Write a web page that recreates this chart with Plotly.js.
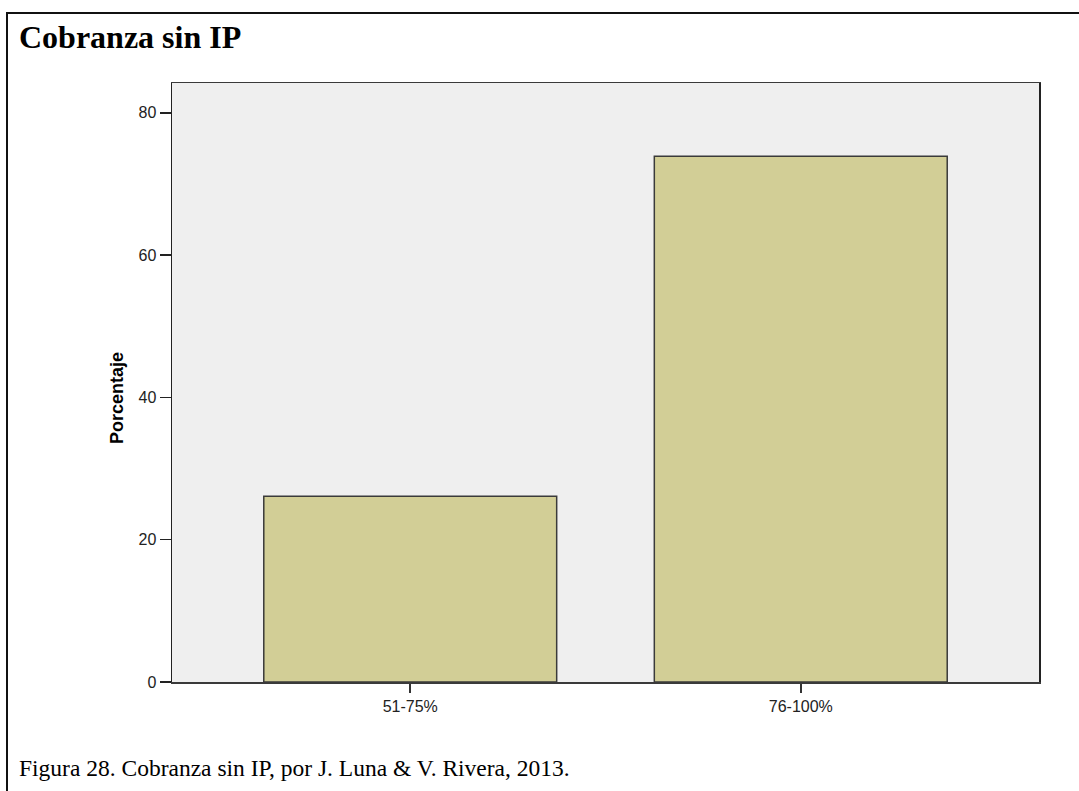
<!DOCTYPE html>
<html>
<head>
<meta charset="utf-8">
<script src="https://cdn.plot.ly/plotly-3.0.1.min.js"></script>
<style>
  html, body { margin: 0; padding: 0; background: #ffffff; }
  #chart { width: 1079px; height: 791px; }
</style>
</head>
<body>
<div id="chart"></div>
<script>
// Response bands and share of cases (%) in each band
const categories = ['51-75%', '76-100%'];
const percentages = [26.1, 73.9];
const yTickValues = [0, 20, 40, 60, 80];

const chartTitle = 'Cobranza sin IP';
const yTitle = 'Porcentaje';
const caption = 'Figura 28. Cobranza sin IP, por J. Luna & V. Rivera, 2013.';

// Plot area geometry in pixels
const W = 1079, H = 791;
const plotLeft = 172, plotRight = 1039, plotTop = 83, plotBottom = 682;
const pw = plotRight - plotLeft, ph = plotBottom - plotTop;
const px = v => (v - plotLeft) / pw;
const py = v => (plotBottom - v) / ph;

const sans = 'Liberation Sans, Arial, sans-serif';
const serif = 'Liberation Serif, Times New Roman, serif';

const trace = {
  type: 'bar',
  x: categories,
  y: percentages,
  marker: {
    color: '#d2ce96',
    line: { color: '#3a3a3a', width: 1.5 }
  },
  hoverinfo: 'x+y'
};

const layout = {
  width: W,
  height: H,
  margin: { l: plotLeft, r: W - plotRight, t: plotTop, b: H - plotBottom, pad: 0 },
  paper_bgcolor: '#ffffff',
  plot_bgcolor: '#efefef',
  showlegend: false,
  bargap: 0.25,
  xaxis: {
    type: 'category',
    range: [-0.61, 1.61],
    showline: true,
    mirror: true,
    linecolor: '#3a3a3a',
    linewidth: 1.5,
    ticks: 'outside',
    ticklen: 9,
    tickwidth: 1.5,
    tickcolor: '#333333',
    showgrid: false,
    zeroline: false,
    tickfont: { family: sans, size: 16, color: '#222222' }
  },
  yaxis: {
    range: [0, 84.2],
    tickvals: yTickValues,
    ticktext: yTickValues.map(String),
    showline: true,
    mirror: true,
    linecolor: '#222222',
    linewidth: 1.5,
    ticks: 'outside',
    ticklen: 11,
    tickwidth: 1.5,
    tickcolor: '#222222',
    showgrid: false,
    zeroline: false,
    tickfont: { family: sans, size: 16, color: '#222222' }
  },
  annotations: [
    {
      text: '<b>' + chartTitle + '</b>',
      xref: 'paper', yref: 'paper',
      x: px(17), y: py(37),
      xanchor: 'left', yanchor: 'middle',
      showarrow: false,
      font: { family: serif, size: 32, color: '#000000' }
    },
    {
      text: '<b>' + yTitle + '</b>',
      xref: 'paper', yref: 'paper',
      x: px(117), y: py(398),
      xanchor: 'center', yanchor: 'middle',
      textangle: -90,
      showarrow: false,
      font: { family: sans, size: 18, color: '#000000' }
    },
    {
      text: caption,
      xref: 'paper', yref: 'paper',
      x: px(17), y: py(768),
      xanchor: 'left', yanchor: 'middle',
      showarrow: false,
      font: { family: serif, size: 23.5, color: '#000000' }
    }
  ],
  shapes: [
    // frame around the figure: top and left edges
    {
      type: 'line', xref: 'paper', yref: 'paper',
      x0: px(6), y0: py(13), x1: px(W + 10), y1: py(13),
      line: { color: '#111111', width: 2 }
    },
    {
      type: 'line', xref: 'paper', yref: 'paper',
      x0: px(7), y0: py(12), x1: px(7), y1: py(H + 10),
      line: { color: '#111111', width: 2 }
    }
  ]
};

Plotly.newPlot('chart', [trace], layout, { displayModeBar: false, staticPlot: true });
</script>
</body>
</html>
